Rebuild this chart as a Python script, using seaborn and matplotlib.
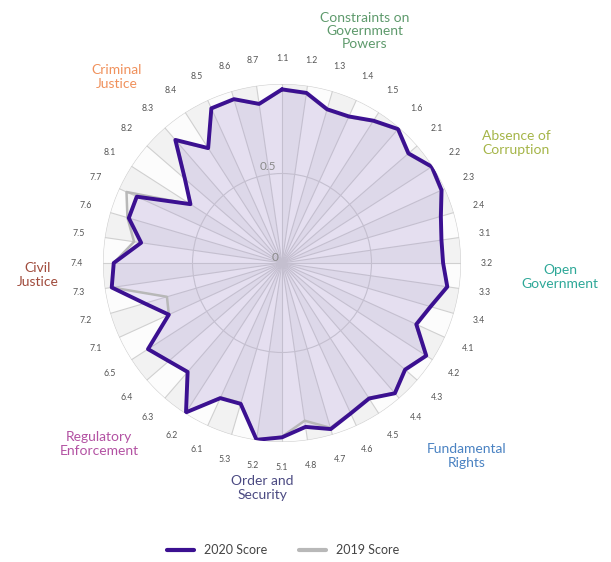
import numpy as np
import pandas as pd
import matplotlib
matplotlib.use("Agg")
import matplotlib.pyplot as plt
from matplotlib.lines import Line2D
import seaborn as sns

# ---- data ----
subfactors = ["1.1", "1.2", "1.3", "1.4", "1.5", "1.6",
              "2.1", "2.2", "2.3", "2.4",
              "3.1", "3.2", "3.3", "3.4",
              "4.1", "4.2", "4.3", "4.4", "4.5", "4.6", "4.7", "4.8",
              "5.1", "5.2", "5.3",
              "6.1", "6.2", "6.3", "6.4", "6.5",
              "7.1", "7.2", "7.3", "7.4", "7.5", "7.6", "7.7",
              "8.1", "8.2", "8.3", "8.4", "8.5", "8.6", "8.7"]

score_2020 = [0.97, 0.96, 0.895, 0.90, 0.945, 0.99,
              0.935, 0.995, 0.98, 0.925,
              0.90, 0.90, 0.933, 0.865,
              0.825, 0.958, 0.91, 0.963, 0.90, 0.924, 0.967, 0.925,
              0.974, 0.998, 0.82,
              0.83, 0.992, 0.805, 0.837, 0.89,
              0.695, 0.80, 0.961, 0.94, 0.795, 0.892, 0.892,
              0.608, 0.718, 0.91, 0.763, 0.95, 0.954, 0.898]

score_2019 = [0.965, 0.955, 0.89, 0.895, 0.94, 0.985,
              0.93, 0.99, 0.975, 0.92,
              0.90, 0.90, 0.93, 0.86,
              0.82, 0.955, 0.905, 0.96, 0.895, 0.92, 0.96, 0.89,
              0.97, 0.995, 0.815,
              0.825, 0.99, 0.81, 0.835, 0.885,
              0.695, 0.67, 0.961, 0.94, 0.835, 0.90, 0.955,
              0.605, 0.715, 0.90, 0.76, 0.945, 0.95, 0.895]

factor_names = ["Constraints on\nGovernment\nPowers", "Absence of\nCorruption",
                "Open\nGovernment", "Fundamental\nRights", "Order and\nSecurity",
                "Regulatory\nEnforcement", "Civil\nJustice", "Criminal\nJustice"]
factor_colors = ["#5e9a6c", "#a5b548", "#2ea898", "#4a82c2",
                 "#4b4a82", "#b352a3", "#a04b3c", "#f0915c"]
factor_pos_px = [(365, 31), (516, 143), (560, 277), (467, 456),
                 (262, 488), (99, 444), (38, 275), (117, 77)]

radial_ticks = [0.5, 1.0]

# ---- figure ----
sns.set_theme(style="white")
plt.rcParams["font.family"] = ["Lato", "DejaVu Sans"]

W, H = 611, 562
fig = plt.figure(figsize=(W / 100, H / 100), dpi=100)
cx, cy, R = 282, 263, 179
ax = fig.add_axes([(cx - R) / W, 1 - (cy + R) / H, 2 * R / W, 2 * R / H],
                  projection="polar")
ax.set_theta_zero_location("N")
ax.set_theta_direction(-1)

n = len(subfactors)
theta = np.linspace(0, 2 * np.pi, n, endpoint=False)
step = 2 * np.pi / n

# alternating background wedges
bg_cols = ["#f2f2f2" if i % 2 == 0 else "#fcfcfc" for i in range(n)]
ax.bar(theta + step / 2, np.ones(n), width=step, color=bg_cols,
       edgecolor="none", zorder=0)

theta_c = np.append(theta, 2 * np.pi)
s19 = np.append(score_2019, score_2019[0])
s20 = np.append(score_2020, score_2020[0])
df = pd.DataFrame({
    "theta": np.concatenate([theta_c, theta_c]),
    "score": np.concatenate([s19, s20]),
    "year": ["2019 Score"] * (n + 1) + ["2020 Score"] * (n + 1),
})

c2020 = "#3b1091"
c2019 = "#b8b8b8"

ax.fill(theta_c, s19, color="#9a9a9a", alpha=0.08, zorder=2, lw=0)
ax.fill(theta_c, s20, color="#a98fe2", alpha=0.2, zorder=3, lw=0)

sns.lineplot(data=df[df.year == "2019 Score"], x="theta", y="score",
             sort=False, estimator=None, color=c2019, lw=1.8, ax=ax,
             zorder=4, legend=False)
sns.lineplot(data=df[df.year == "2020 Score"], x="theta", y="score",
             sort=False, estimator=None, color=c2020, lw=2.8, ax=ax,
             zorder=5, legend=False)

ax.set_xlabel("")
ax.set_ylabel("")
ax.set_ylim(0, 1)
ax.set_xticks(theta)
ax.set_xticklabels([])
ax.set_yticks(radial_ticks)
ax.set_yticklabels([])
ax.grid(True, color="#d0d0d0", lw=0.8)
ax.spines["polar"].set_visible(False)
ax.set_facecolor("white")

for t, lab in zip(theta, subfactors):
    ax.text(t, 1.145, lab, ha="center", va="center", fontsize=6.3,
            color="#555555", clip_on=False)

ax.text(2 * np.pi - 0.145, 0.545, "0.5", ha="center", va="center",
        fontsize=8.5, color="#8a8a8a", zorder=6)
ax.text(2 * np.pi - 0.95, 0.05, "0", ha="center", va="center",
        fontsize=8.5, color="#8a8a8a", zorder=6)

for name, col, (px, py) in zip(factor_names, factor_colors, factor_pos_px):
    fig.text(px / W, 1 - py / H, name, ha="center", va="center",
             fontsize=10, color=col, linespacing=1.15)

handles = [Line2D([0], [0], color=c2020, lw=3),
           Line2D([0], [0], color=c2019, lw=3)]
fig.legend(handles, ["2020 Score", "2019 Score"], loc="center",
           bbox_to_anchor=(283 / W, 1 - 550 / H), ncol=2, frameon=False,
           fontsize=9, handlelength=2.2, columnspacing=2.5,
           labelcolor="#444444")

fig.savefig("out.png", dpi=100, facecolor="white")
